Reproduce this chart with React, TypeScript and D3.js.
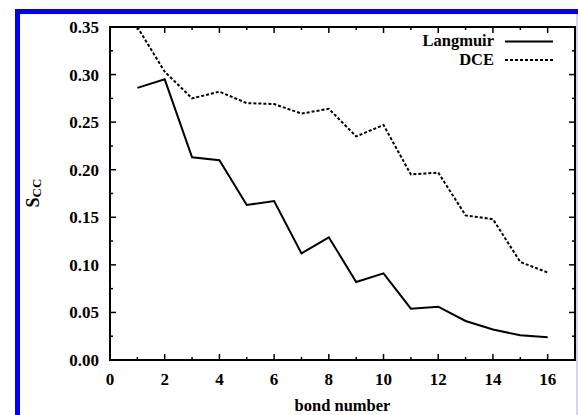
import * as d3 from 'd3'

const W = 578
const H = 415
const M = { left: 110, right: 3, top: 27, bottom: 55 }

const bonds = [1, 2, 3, 4, 5, 6, 7, 8, 9, 10, 11, 12, 13, 14, 15, 16]
const langmuir = [0.286, 0.295, 0.213, 0.210, 0.163, 0.167, 0.112, 0.129, 0.082, 0.091, 0.054, 0.056, 0.041, 0.032, 0.026, 0.024]
const dce = [0.350, 0.303, 0.275, 0.282, 0.270, 0.269, 0.259, 0.264, 0.235, 0.247, 0.195, 0.197, 0.152, 0.148, 0.103, 0.092]

const xMajor = [0, 2, 4, 6, 8, 10, 12, 14, 16]
const xMinor = [1, 3, 5, 7, 9, 11, 13, 15, 17]
const yMajor = [0, 0.05, 0.1, 0.15, 0.2, 0.25, 0.3, 0.35]
const yMinor = [0.025, 0.075, 0.125, 0.175, 0.225, 0.275, 0.325]

const FONT = "'Liberation Serif', 'Times New Roman', Times, 'DejaVu Serif', serif"

export default function App() {
  const x0 = M.left
  const x1 = W - M.right
  const y0 = H - M.bottom
  const y1 = M.top

  const x = d3.scaleLinear().domain([0, 17]).range([x0, x1])
  const y = d3.scaleLinear().domain([0, 0.35]).range([y0, y1])

  const line = d3.line<number>()
    .x((_, i) => x(bonds[i]))
    .y(d => y(d))

  const major = 6
  const minor = 3
  const txt = { fontFamily: FONT, fontWeight: 700 }

  return (
    <svg width={W} height={H} style={{ position: 'absolute', left: 0, top: 0, background: '#fff' }}>
      {/* page frame */}
      <rect x={15} y={9} width={W - 15} height={5} fill="#0000ff" />
      <rect x={15} y={9} width={5} height={H - 9} fill="#0000ff" />
      <line x1={577} y1={14} x2={577} y2={H} stroke="#c4c4ff" strokeWidth={1.5} />

      {/* ticks */}
      <g stroke="#000" strokeWidth={1.5}>
        {xMajor.map(t => (
          <g key={'xm' + t}>
            <line x1={x(t)} x2={x(t)} y1={y0} y2={y0 - major} />
            <line x1={x(t)} x2={x(t)} y1={y1} y2={y1 + major} />
          </g>
        ))}
        {xMinor.map(t => (
          <g key={'xn' + t}>
            <line x1={x(t)} x2={x(t)} y1={y0} y2={y0 - minor} />
            <line x1={x(t)} x2={x(t)} y1={y1} y2={y1 + minor} />
          </g>
        ))}
        {yMajor.map(t => (
          <g key={'ym' + t}>
            <line x1={x0} x2={x0 + major} y1={y(t)} y2={y(t)} />
            <line x1={x1} x2={x1 - major} y1={y(t)} y2={y(t)} />
          </g>
        ))}
        {yMinor.map(t => (
          <g key={'yn' + t}>
            <line x1={x0} x2={x0 + minor} y1={y(t)} y2={y(t)} />
            <line x1={x1} x2={x1 - minor} y1={y(t)} y2={y(t)} />
          </g>
        ))}
      </g>

      {/* frame */}
      <rect x={x0} y={y1} width={x1 - x0} height={y0 - y1} fill="none" stroke="#000" strokeWidth={2} />

      {/* tick labels */}
      <g style={txt} fontSize={17} fill="#000">
        {xMajor.map(t => (
          <text key={'xl' + t} x={x(t)} y={y0 + 25} textAnchor="middle">{t}</text>
        ))}
        {yMajor.map(t => (
          <text key={'yl' + t} x={x0 - 11} y={y(t) + 6} textAnchor="end">{t.toFixed(2)}</text>
        ))}
      </g>

      {/* axis titles */}
      <text x={(x0 + x1) / 2} y={411} textAnchor="middle" style={txt} fontSize={16.5}>bond number</text>
      <text transform="translate(39,193) rotate(-90)" textAnchor="middle" style={txt} fontSize={18}>
        S<tspan fontSize={13} dy={2}>CC</tspan>
      </text>

      {/* series */}
      <path d={line(langmuir) ?? ''} fill="none" stroke="#000" strokeWidth={2} />
      <path d={line(dce) ?? ''} fill="none" stroke="#000" strokeWidth={2} strokeDasharray="3,2" />

      {/* legend */}
      <g style={txt} fontSize={16.5}>
        <text x={494} y={46} textAnchor="end">Langmuir</text>
        <line x1={505} x2={553} y1={41.5} y2={41.5} stroke="#000" strokeWidth={2} />
        <text x={494} y={65} textAnchor="end">DCE</text>
        <line x1={505} x2={553} y1={60} y2={60} stroke="#000" strokeWidth={2} strokeDasharray="3,2" />
      </g>
    </svg>
  )
}
